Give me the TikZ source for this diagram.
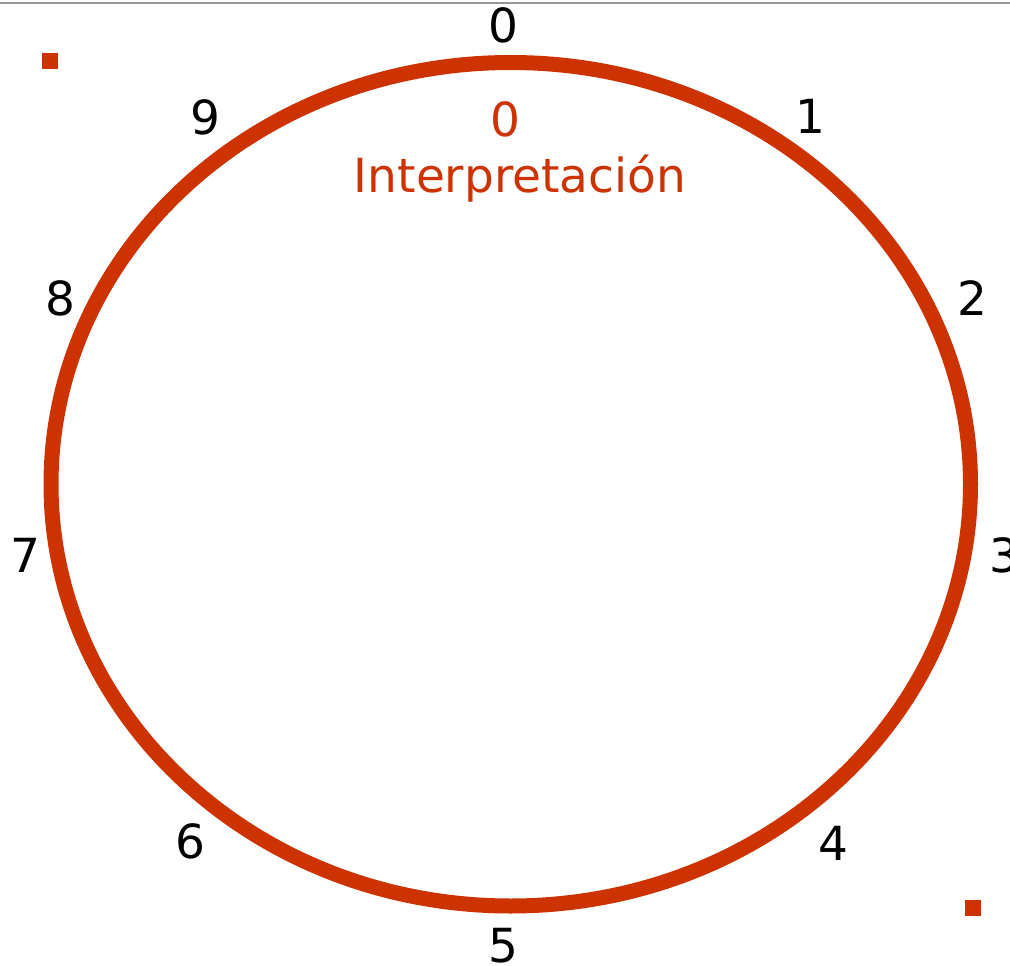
\documentclass[tikz,border=0pt]{standalone}
\usepackage{fontspec}
\setmainfont{DejaVu Sans}
\usetikzlibrary{positioning}
\definecolor{rust}{HTML}{CC3300}
\tikzset{
  ring/.style={draw=rust, line width=15pt},
  num/.style={font=\fontsize{47}{56}\selectfont, text=black, inner sep=0pt, anchor=base},
  tag/.style={font=\fontsize{47}{56}\selectfont, text=rust, inner sep=0pt, anchor=base},
  sq/.style={fill=rust, minimum size=16pt, inner sep=0pt}
}

\begin{document}
\begin{tikzpicture}[x=1pt, y=-1pt]
\useasboundingbox (0,0) rectangle (1010,966);
\coordinate (rl) at (0,3);
\coordinate (rr) at (1010,3);
\draw[black!40, line width=1.5pt] (rl) -- (rr);
% the dial
\coordinate (ctr) at (510.75,484.25);
\draw[ring] (ctr) ellipse [x radius=459.75, y radius=421.75];
% numbers round it
\node[num] (n0) at (503,43) {0};
\node[num] (n1) at (810,133) {1};
\node[num] (n2) at (972,315) {2};
\node[num] (n3) at (1004,572) {3};
\node[num] (n4) at (833,860) {4};
\node[num] (n5) at (503,962) {5};
\node[num] (n6) at (190,858) {6};
\node[num] (n7) at (25,572) {7};
\node[num] (n8) at (60,315) {8};
\node[num] (n9) at (205,135) {9};
% inner text
\node[tag] (val) at (505,136) {0};
\node[tag] (name) at (520,192) {Interpretación};
% corner marks
\node[sq] (sqa) at (50,61) {};
\node[sq] (sqb) at (972.5,907.5) {};
\end{tikzpicture}
\end{document}
